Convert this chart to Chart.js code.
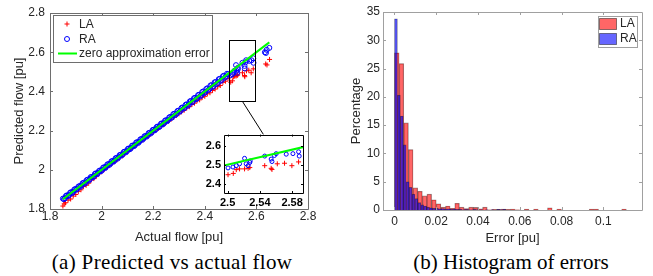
<!DOCTYPE html>
<html>
<head>
<meta charset="utf-8">
<script src="https://cdn.jsdelivr.net/npm/chart.js@4.4.1/dist/chart.umd.min.js"></script>
<style>
  body { margin: 0; background: #fff; }
  #page { position: relative; width: 653px; height: 276px; overflow: hidden; background: #fff; }
  canvas { position: absolute; }
  .cap { position: absolute; top: 250px; font: 21px/24px "Liberation Serif", "Times New Roman", serif;
         color: #000; white-space: nowrap; transform: translateX(-50%); }
</style>
</head>
<body>
<div id="page">
  <canvas id="flow" width="330" height="250" style="left:0;top:0"></canvas>
  <canvas id="zoomed" width="115" height="88" style="left:195px;top:125px"></canvas>
  <canvas id="hist" width="323" height="250" style="left:330px;top:0"></canvas>
  <div class="cap" style="left:172px;letter-spacing:0.35px">(a) Predicted vs actual flow</div>
  <div class="cap" style="left:511px">(b) Histogram of errors</div>
</div>
<script>
'use strict';

// ===== values =====

// (a) predicted vs actual flow
const flowTicks = [1.8, 2, 2.2, 2.4, 2.6, 2.8];
const zoomXTicks = [2.5, 2.54, 2.58];
const zoomYTicks = [2.4, 2.5, 2.6];
const zoomXRange = [2.4955, 2.5935];
const zoomYRange = [2.35, 2.66];
const idealX = [1.85, 2.65];
const idealY = [1.85, 2.65];

// LA : actual / predicted
const laX = [1.850, 1.855, 1.860, 1.870, 1.880, 1.890, 1.900, 1.910, 1.920, 1.930,
  1.940, 1.950, 1.960, 1.970, 1.980, 1.990, 2.000, 2.010, 2.020, 2.030,
  2.040, 2.050, 2.060, 2.070, 2.080, 2.090, 2.100, 2.110, 2.120, 2.130,
  2.140, 2.150, 2.160, 2.170, 2.180, 2.190, 2.200, 2.210, 2.220, 2.230,
  2.240, 2.250, 2.260, 2.270, 2.280, 2.290, 2.300, 2.310, 2.320, 2.330,
  2.340, 2.350, 2.360, 2.370, 2.380, 2.390, 2.400, 2.410, 2.420, 2.430,
  2.440, 2.450, 2.460, 2.470, 2.480, 2.490,
  2.5005, 2.507, 2.5107, 2.5148, 2.521, 2.5254, 2.5275, 2.546, 2.554, 2.555,
  2.5616, 2.5706, 2.5797, 2.588,
  2.636, 2.641, 2.651];
const laY = [1.815, 1.826, 1.832, 1.845, 1.851, 1.866, 1.874, 1.890, 1.898, 1.915,
  1.921, 1.932, 1.948, 1.955, 1.968, 1.980, 1.990, 2.001, 2.012, 2.021,
  2.032, 2.043, 2.051, 2.063, 2.071, 2.083, 2.092, 2.104, 2.113, 2.124,
  2.133, 2.144, 2.153, 2.164, 2.172, 2.183, 2.192, 2.203, 2.211, 2.222,
  2.230, 2.241, 2.249, 2.259, 2.268, 2.278, 2.286, 2.296, 2.304, 2.316,
  2.322, 2.333, 2.340, 2.352, 2.357, 2.370, 2.375, 2.388, 2.393, 2.405,
  2.412, 2.424, 2.430, 2.446, 2.452, 2.466,
  2.447, 2.454, 2.474, 2.478, 2.478, 2.481, 2.485, 2.495, 2.481, 2.475,
  2.505, 2.508, 2.495, 2.515,
  2.540, 2.535, 2.563];

// RA : actual / predicted
const raX = [1.850, 1.858, 1.866, 1.874, 1.882, 1.890, 1.898, 1.906, 1.914, 1.922,
  1.930, 1.938, 1.946, 1.954, 1.962, 1.970, 1.978, 1.986, 1.994, 2.002,
  2.010, 2.018, 2.026, 2.034, 2.042, 2.050, 2.058, 2.066, 2.074, 2.082,
  2.090, 2.098, 2.106, 2.114, 2.122, 2.130, 2.138, 2.146, 2.154, 2.162,
  2.170, 2.178, 2.186, 2.194, 2.202, 2.210, 2.218, 2.226, 2.234, 2.242,
  2.250, 2.258, 2.266, 2.274, 2.282, 2.290, 2.298, 2.306, 2.314, 2.322,
  2.330, 2.338, 2.346, 2.354, 2.362, 2.370, 2.378, 2.386, 2.394, 2.402,
  2.410, 2.418, 2.426, 2.434, 2.442, 2.450, 2.458, 2.466, 2.474, 2.482, 2.490,
  1.854, 1.862, 1.870, 1.878, 1.886, 1.894, 1.902, 1.910, 1.918, 1.926,
  1.934, 1.942, 1.950, 1.958, 1.966, 1.974, 1.982, 1.990, 1.998, 2.006,
  2.014, 2.022, 2.030, 2.038, 2.046, 2.054, 2.062, 2.070, 2.078, 2.086,
  2.094, 2.102, 2.110, 2.118, 2.126, 2.134, 2.142, 2.150, 2.158, 2.166,
  2.174, 2.182, 2.190, 2.198, 2.206, 2.214, 2.222, 2.230, 2.238, 2.246,
  2.254, 2.262, 2.270, 2.278, 2.286, 2.294, 2.302, 2.310, 2.318, 2.326,
  2.334, 2.342, 2.350, 2.358, 2.366, 2.374, 2.382, 2.390, 2.398, 2.406,
  2.414, 2.422, 2.430, 2.438, 2.446, 2.454, 2.462, 2.470, 2.478, 2.486,
  2.5005, 2.5066, 2.5107, 2.5148, 2.521, 2.523, 2.5254, 2.5275, 2.528, 2.546,
  2.554, 2.555, 2.558, 2.5603, 2.5727, 2.581, 2.588, 2.5888,
  2.633, 2.637, 2.640, 2.650];
const raY = [1.853, 1.855, 1.870, 1.871, 1.886, 1.888, 1.902, 1.903, 1.917, 1.920,
  1.934, 1.935, 1.950, 1.951, 1.963, 1.968, 1.982, 1.984, 1.997, 1.999,
  2.013, 2.016, 2.029, 2.031, 2.045, 2.047, 2.061, 2.064, 2.077, 2.079,
  2.093, 2.095, 2.109, 2.111, 2.124, 2.127, 2.141, 2.143, 2.157, 2.159,
  2.172, 2.175, 2.189, 2.191, 2.205, 2.207, 2.221, 2.222, 2.237, 2.238,
  2.253, 2.254, 2.270, 2.270, 2.286, 2.285, 2.302, 2.301, 2.318, 2.316,
  2.334, 2.332, 2.351, 2.348, 2.367, 2.364, 2.383, 2.379, 2.400, 2.396,
  2.416, 2.412, 2.432, 2.427, 2.448, 2.443, 2.464, 2.459, 2.480, 2.475, 2.487,
  1.850, 1.867, 1.866, 1.883, 1.881, 1.899, 1.898, 1.914, 1.913, 1.931,
  1.929, 1.947, 1.945, 1.963, 1.961, 1.979, 1.977, 1.994, 1.993, 2.011,
  2.009, 2.027, 2.025, 2.043, 2.041, 2.059, 2.057, 2.075, 2.073, 2.091,
  2.089, 2.107, 2.105, 2.123, 2.121, 2.139, 2.137, 2.155, 2.153, 2.171,
  2.169, 2.187, 2.185, 2.203, 2.201, 2.219, 2.217, 2.235, 2.232, 2.251,
  2.248, 2.267, 2.264, 2.284, 2.280, 2.300, 2.296, 2.316, 2.312, 2.332,
  2.327, 2.349, 2.344, 2.365, 2.360, 2.381, 2.375, 2.397, 2.391, 2.413,
  2.407, 2.430, 2.422, 2.446, 2.438, 2.462, 2.454, 2.477, 2.470, 2.490,
  2.483, 2.488, 2.495, 2.505, 2.534, 2.505, 2.495, 2.512, 2.520, 2.546,
  2.530, 2.517, 2.549, 2.559, 2.556, 2.559, 2.569, 2.546,
  2.600, 2.596, 2.612, 2.622];

// (b) histogram of errors, percentage per bin
const errTicks = [0, 0.02, 0.04, 0.06, 0.08, 0.1];
const pctTicks = [0, 5, 10, 15, 20, 25, 30, 35];
const errRange = [-0.0055, 0.1185];
const laBinWidth = 0.00222;
const raBinWidth = 0.0014;
const laPct = [27.8, 25.9, 15.4, 10.7, 3.9, 3.3, 2.5, 2.8, 1.8, 1.1,
  0.5, 0.7, 0.3, 1.2, 0.5, 0.25, 0.5, 0.45, 0.2, 0.5,
  0.05, 0.1, 0.1, 0.15, 0.1, 0.15, 0.05, 0, 0.15, 0,
  0.15, 0, 0, 0.4, 0, 0.15, 0, 0, 0, 0,
  0, 0, 0.15, 0.15, 0, 0, 0, 0, 0, 0.15];
const raPct = [33.8, 20.3, 16.6, 11.5, 5.0, 4.0, 2.8, 2.0, 1.3, 0.9,
  0.7, 0.5, 0.4, 0.3, 0.3, 0.2, 0.25, 0.15, 0.2, 0.1,
  0.15, 0.1, 0.1, 0.05, 0.1, 0.05, 0.05, 0.1, 0.05, 0.05,
  0, 0.05, 0, 0.05, 0, 0.1, 0.05, 0.1];

// ===== helpers =====

Chart.defaults.font.family = '"Liberation Sans", Arial, sans-serif';
Chart.defaults.color = '#262626';
Chart.defaults.animation = false;

const pts = (xs, ys) => xs.map((x, i) => ({ x: x, y: ys[i] }));
const bins = (pct, w) => pct.map((p, i) => ({ x: (i + 0.5) * w, y: p }));
const fixTicks = list => scale => { scale.ticks = list.map(v => ({ value: v })); };
const txt = v => String(v);

// box round the axes with inward tick marks on all four sides
const boxTicks = {
  id: 'boxTicks',
  afterDraw(chart, args, o) {
    const { ctx, chartArea: a } = chart;
    const xs = chart.scales.x, ys = chart.scales.y;
    ctx.save();
    ctx.strokeStyle = o.color;
    ctx.lineWidth = 1;
    ctx.beginPath();
    for (const t of xs.ticks) {
      const p = Math.round(xs.getPixelForValue(t.value)) + 0.5;
      ctx.moveTo(p, a.top); ctx.lineTo(p, a.top + o.len);
      ctx.moveTo(p, a.bottom); ctx.lineTo(p, a.bottom - o.len);
    }
    for (const t of ys.ticks) {
      const p = Math.round(ys.getPixelForValue(t.value)) + 0.5;
      ctx.moveTo(a.left, p); ctx.lineTo(a.left + o.len, p);
      ctx.moveTo(a.right, p); ctx.lineTo(a.right - o.len, p);
    }
    ctx.rect(Math.round(a.left) + 0.5, Math.round(a.top) + 0.5,
      Math.round(a.right - a.left), Math.round(a.bottom - a.top));
    ctx.stroke();
    ctx.restore();
  }
};

// ===== inset =====

const whiteArea = {
  id: 'whiteArea',
  beforeDraw(chart) {
    const { ctx, chartArea: a } = chart;
    ctx.save();
    ctx.fillStyle = '#fff';
    ctx.fillRect(a.left, a.top, a.right - a.left, a.bottom - a.top);
    ctx.restore();
  }
};

const insetTick = { size: 11, weight: 'bold' };

const zoomChart = new Chart(document.getElementById('zoomed'), {
  type: 'scatter',
  data: {
    datasets: [
      { label: 'LA', data: pts(laX, laY), pointStyle: 'cross', pointRadius: 2.5,
        borderColor: '#ff0000', borderWidth: 1, clip: 0, order: 3 },
      { label: 'RA', data: pts(raX, raY), pointStyle: 'circle', pointRadius: 2,
        borderColor: '#0000ff', backgroundColor: 'rgba(0,0,0,0)', borderWidth: 1, clip: 0, order: 2 },
      { label: 'zero approximation error', data: pts(idealX, idealY), showLine: true,
        pointRadius: 0, borderColor: '#00ff00', borderWidth: 2, clip: 0, order: 1 }
    ]
  },
  options: {
    responsive: false,
    events: [],
    layout: { padding: { left: 0, top: 8, right: 7, bottom: 0 } },
    plugins: { legend: { display: false }, tooltip: { enabled: false },
      boxTicks: { color: '#000', len: 2 } },
    scales: {
      x: {
        type: 'linear', min: zoomXRange[0], max: zoomXRange[1],
        afterBuildTicks: fixTicks(zoomXTicks),
        afterFit: s => { s.height = 20; },
        grid: { display: false, drawTicks: false }, border: { display: false },
        ticks: { font: insetTick, color: '#000', padding: 3, maxRotation: 0, autoSkip: false, callback: txt }
      },
      y: {
        type: 'linear', min: zoomYRange[0], max: zoomYRange[1],
        afterBuildTicks: fixTicks(zoomYTicks),
        afterFit: s => { s.width = 29; },
        grid: { display: false, drawTicks: false }, border: { display: false },
        ticks: { font: insetTick, color: '#000', padding: 3, autoSkip: false, callback: txt }
      }
    }
  },
  plugins: [whiteArea, boxTicks]
});

// ===== (a) main scatter =====

const zoomBox = {
  id: 'zoomBox',
  afterDatasetsDraw(chart) {
    const { ctx } = chart;
    const xs = chart.scales.x, ys = chart.scales.y;
    const x0 = Math.round(xs.getPixelForValue(zoomXRange[0])) + 0.5;
    const x1 = Math.round(xs.getPixelForValue(zoomXRange[1])) + 0.5;
    const y0 = Math.round(ys.getPixelForValue(zoomYRange[1])) + 0.5;
    const y1 = Math.round(ys.getPixelForValue(zoomYRange[0])) + 0.5;
    const ia = zoomChart.chartArea, cv = zoomChart.canvas;
    ctx.save();
    ctx.strokeStyle = '#000';
    ctx.lineWidth = 1;
    ctx.strokeRect(x0, y0, x1 - x0, y1 - y0);
    ctx.beginPath();
    ctx.moveTo((x0 + x1) / 2, y1);
    ctx.lineTo(cv.offsetLeft + (ia.left + ia.right) / 2, cv.offsetTop + ia.top);
    ctx.stroke();
    ctx.restore();
  }
};

const flowLegend = {
  id: 'flowLegend',
  afterDraw(chart) {
    const { ctx } = chart;
    const ds = chart.data.datasets;
    const bx = 53.5, by = 15.5, bw = 159, bh = 47;
    ctx.save();
    ctx.fillStyle = '#fff';
    ctx.fillRect(bx, by, bw, bh);
    ctx.strokeStyle = '#6e6e6e';
    ctx.lineWidth = 1;
    ctx.strokeRect(bx, by, bw, bh);
    const rows = [24, 39, 53.5];
    // LA plus
    ctx.strokeStyle = ds[0].borderColor;
    ctx.beginPath();
    ctx.moveTo(64.5, rows[0]); ctx.lineTo(69.5, rows[0]);
    ctx.moveTo(67, rows[0] - 2.5); ctx.lineTo(67, rows[0] + 2.5);
    ctx.stroke();
    // RA circle
    ctx.strokeStyle = ds[1].borderColor;
    ctx.beginPath();
    ctx.arc(67, rows[1], 2.5, 0, Math.PI * 2);
    ctx.stroke();
    // ideal line
    ctx.strokeStyle = ds[2].borderColor;
    ctx.lineWidth = 2;
    ctx.beginPath();
    ctx.moveTo(58, rows[2]); ctx.lineTo(77, rows[2]);
    ctx.stroke();
    ctx.fillStyle = '#262626';
    ctx.font = '12px "Liberation Sans", Arial, sans-serif';
    ctx.textBaseline = 'middle';
    ds.forEach((d, i) => ctx.fillText(d.label, 79, rows[i] + 0.5));
    ctx.restore();
  }
};

new Chart(document.getElementById('flow'), {
  type: 'scatter',
  data: {
    datasets: [
      { label: 'LA', data: pts(laX, laY), pointStyle: 'cross', pointRadius: 2.5,
        borderColor: '#ff0000', borderWidth: 1, order: 3 },
      { label: 'RA', data: pts(raX, raY), pointStyle: 'circle', pointRadius: 2.5,
        borderColor: '#0000ff', backgroundColor: 'rgba(0,0,0,0)', borderWidth: 1, order: 2 },
      { label: 'zero approximation error', data: pts(idealX, idealY), showLine: true,
        pointRadius: 0, borderColor: '#00ff00', borderWidth: 2, order: 1 }
    ]
  },
  options: {
    responsive: false,
    events: [],
    layout: { padding: { left: 0, top: 13, right: 22, bottom: 0 } },
    plugins: { legend: { display: false }, tooltip: { enabled: false },
      boxTicks: { color: '#6e6e6e', len: 3 } },
    scales: {
      x: {
        type: 'linear', min: 1.8, max: 2.8,
        afterBuildTicks: fixTicks(flowTicks),
        afterFit: s => { s.height = 41; },
        grid: { display: false, drawTicks: false }, border: { display: false },
        ticks: { font: { size: 12 }, padding: 0, maxRotation: 0, autoSkip: false, callback: txt },
        title: { display: true, text: 'Actual flow [pu]', font: { size: 13 }, padding: { top: 0, bottom: 5 } }
      },
      y: {
        type: 'linear', min: 1.8, max: 2.8,
        afterBuildTicks: fixTicks(flowTicks),
        afterFit: s => { s.width = 50; },
        grid: { display: false, drawTicks: false }, border: { display: false },
        ticks: { font: { size: 12 }, padding: 5, autoSkip: false, callback: txt },
        title: { display: true, text: 'Predicted flow [pu]', font: { size: 13 }, padding: { top: 12, bottom: 0 } }
      }
    }
  },
  plugins: [boxTicks, zoomBox, flowLegend]
});

// ===== (b) histogram =====

const histLegend = {
  id: 'histLegend',
  afterDraw(chart) {
    const { ctx } = chart;
    const ds = chart.data.datasets;
    ctx.save();
    ctx.fillStyle = '#fff';
    ctx.fillRect(268.5, 16.5, 39, 31);
    ctx.strokeStyle = '#a0a0a0';
    ctx.lineWidth = 1;
    ctx.strokeRect(268.5, 16.5, 39, 31);
    const rows = [18, 33];
    ds.forEach((d, i) => {
      ctx.fillStyle = d.backgroundColor;
      ctx.fillRect(269.5, rows[i] + 0.5, 17, 11);
      ctx.strokeStyle = 'rgba(0,0,0,0.45)';
      ctx.strokeRect(269.5, rows[i] + 0.5, 17, 11);
      ctx.fillStyle = '#262626';
      ctx.font = '12px "Liberation Sans", Arial, sans-serif';
      ctx.textBaseline = 'middle';
      ctx.fillText(d.label, 290, rows[i] + 6);
    });
    ctx.restore();
  }
};

const binWidths = [laBinWidth, raBinWidth];
const histBar = { barPercentage: 1, categoryPercentage: 1, grouped: false,
  borderColor: 'rgba(0,0,0,0.45)', borderWidth: 0.6 };

const histChart = new Chart(document.getElementById('hist'), {
  type: 'bar',
  data: {
    datasets: [
      Object.assign({ label: 'LA', data: bins(laPct, laBinWidth),
        backgroundColor: 'rgba(255,0,0,0.6)', order: 2 }, histBar),
      Object.assign({ label: 'RA', data: bins(raPct, raBinWidth),
        backgroundColor: 'rgba(0,0,255,0.6)', order: 1 }, histBar)
    ]
  },
  options: {
    responsive: false,
    events: [],
    layout: { padding: { left: 0, top: 12, right: 11, bottom: 0 } },
    plugins: { legend: { display: false }, tooltip: { enabled: false },
      boxTicks: { color: '#a0a0a0', len: 3 } },
    scales: {
      x: {
        type: 'linear', offset: false, min: errRange[0], max: errRange[1],
        afterBuildTicks: fixTicks(errTicks),
        afterFit: s => { s.height = 40; },
        grid: { display: false, drawTicks: false }, border: { display: false },
        ticks: { font: { size: 12 }, padding: 4, maxRotation: 0, autoSkip: false, callback: txt },
        title: { display: true, text: 'Error [pu]', font: { size: 13 }, padding: { top: 0, bottom: 4 } }
      },
      y: {
        type: 'linear', min: 0, max: 35,
        afterBuildTicks: fixTicks(pctTicks),
        afterFit: s => { s.width = 53; },
        grid: { display: false, drawTicks: false }, border: { display: false },
        ticks: { font: { size: 12 }, padding: 3, autoSkip: false, callback: txt },
        title: { display: true, text: 'Percentage', font: { size: 13 }, padding: { top: 19, bottom: 0 } }
      }
    }
  },
  plugins: [boxTicks, histLegend]
});

// bars one bin wide: take the pixel width of a bin from the x scale, then redraw
const ex = histChart.scales.x;
histChart.data.datasets.forEach((d, i) => {
  d.barThickness = ex.getPixelForValue(binWidths[i]) - ex.getPixelForValue(0);
});
histChart.update();
</script>
</body>
</html>
